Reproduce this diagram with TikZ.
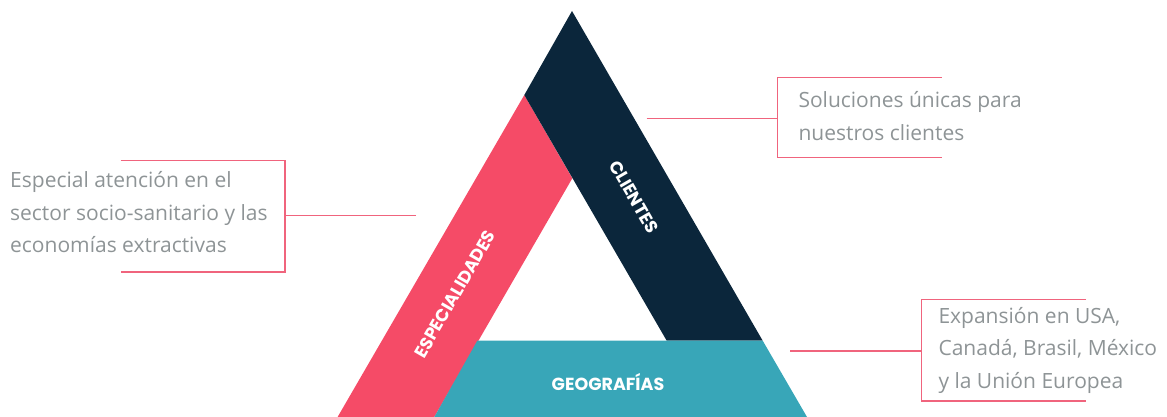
\documentclass[tikz,border=0pt]{standalone}
\usepackage{fontspec}
\setmainfont{Open Sans}
\newfontfamily\lblfont{Poppins}
\definecolor{navy}{RGB}{11,38,59}
\definecolor{rose}{RGB}{245,75,103}
\definecolor{tealband}{RGB}{56,166,184}
\definecolor{txtgray}{RGB}{142,148,150}
\definecolor{linerose}{RGB}{240,100,125}
\begin{document}
\begin{tikzpicture}[x=1pt,y=-1pt,
  band label/.style={text=white,font=\lblfont\bfseries\fontsize{17.5}{17.5}\selectfont,inner sep=0pt},
  note/.style={text=txtgray,font=\fontsize{21}{32.5}\selectfont,align=left,anchor=west,inner sep=0pt},
  bracket/.style={draw=linerose,line width=1.3pt},
]
\useasboundingbox (0,0) rectangle (1167,417);
% bands
\fill[rose] (524.3,95) -- (337.6,417) -- (434.3,417) -- (572.3,178.3) -- cycle;
\fill[navy] (572,11) -- (762.7,340.7) -- (666.7,340.7) -- (524.3,95) -- cycle;
\fill[tealband] (477.3,340.7) -- (762.7,340.7) -- (807,417) -- (434.3,417) -- cycle;
% band labels
\node[band label,rotate=-60] (cli) at (634,197) {CLIENTES};
\node[band label,rotate=60] (esp) at (455,294) {ESPECIALIDADES};
\node[band label] (geo) at (608,382) {GEOGRAFÍAS};
% notes
\node[note] (nesp) at (10,212.5) {Especial atención en el\\sector socio-sanitario y las\\economías extractivas};
\node[note] (ncli) at (798.3,116) {Soluciones únicas para\\nuestros clientes};
\node[note] (ngeo) at (938.3,350) {Expansión en USA,\\Canadá, Brasil, México\\y la Unión Europea};
% brackets
\draw[bracket] (120.7,160.7) -- (285,160.7) -- (285,272) -- (120.7,272);
\draw[bracket] (941.7,77.3) -- (777.3,77.3) -- (777.3,157.7) -- (941.7,157.7);
\draw[bracket] (1086,299.3) -- (921.7,299.3) -- (921.7,401) -- (1086,401);
% connectors
\coordinate (espend) at (416,215.7);
\coordinate (espbr) at (285,215.7);
\coordinate (cliend) at (646.7,118.3);
\coordinate (clibr) at (777.3,118.3);
\coordinate (geoend) at (790,351);
\coordinate (geobr) at (921.7,351);
\draw[bracket] (espend) -- (espbr);
\draw[bracket] (cliend) -- (clibr);
\draw[bracket] (geoend) -- (geobr);
\end{tikzpicture}
\end{document}
